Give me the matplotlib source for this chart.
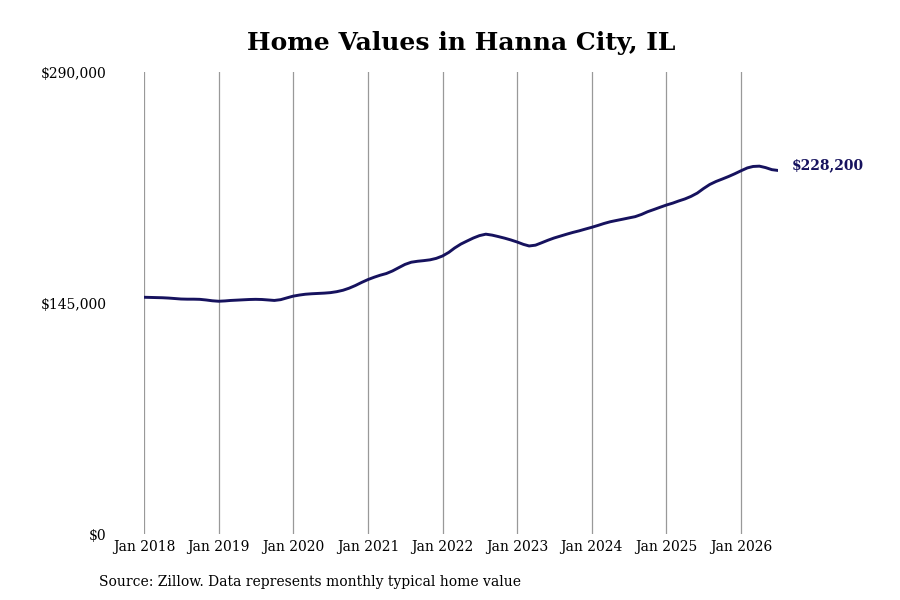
import matplotlib
matplotlib.use("Agg")
import matplotlib.pyplot as plt
import pandas as pd

title = "Home Values in Hanna City, IL"
source = "Source: Zillow. Data represents monthly typical home value"

values_2018 = [148600, 148500, 148400, 148300, 148100, 147800, 147500, 147400, 147400, 147300, 146900, 146400]
values_2019 = [146100, 146300, 146600, 146800, 147000, 147200, 147300, 147200, 146900, 146600, 147100, 148200]
values_2020 = [149300, 150000, 150500, 150800, 151000, 151200, 151500, 152100, 153000, 154300, 156000, 157900]
values_2021 = [159700, 161200, 162400, 163500, 165100, 167200, 169200, 170600, 171200, 171600, 172100, 173000]
values_2022 = [174500, 176800, 179500, 182000, 183900, 185800, 187300, 188200, 187600, 186700, 185700, 184600]
values_2023 = [183300, 181800, 180800, 181300, 182800, 184400, 185800, 187000, 188200, 189300, 190300, 191400]
values_2024 = [192500, 193700, 194900, 196000, 196800, 197600, 198400, 199200, 200600, 202300, 203700, 205100]
values_2025 = [206500, 207700, 209000, 210300, 211900, 214000, 216800, 219400, 221300, 222800, 224400, 226100]
values_2026 = [228000, 229800, 230700, 230900, 230000, 228700, 228200]

values = (values_2018 + values_2019 + values_2020 + values_2021 + values_2022
          + values_2023 + values_2024 + values_2025 + values_2026)
dates = pd.date_range("2018-01-01", periods=len(values), freq="MS")

tick_years = list(range(2018, 2027))
tick_labels = [f"Jan {y}" for y in tick_years]
y_ticks = [0, 145000, 290000]
y_labels = ["$0", "$145,000", "$290,000"]
end_label = "$228,200"

line_color = "#16125e"
font = "DejaVu Serif"

W, H = 900, 600
fig = plt.figure(figsize=(9, 6), dpi=100)
ax = fig.add_axes([144 / W, 1 - 534 / H, (778 - 144) / W, (534 - 72) / H])

ax.plot(dates, values, color=line_color, linewidth=2.1, solid_capstyle="round")

ax.set_xlim(dates[0], dates[-1])
ax.set_ylim(0, 290000)
tick_dates = [pd.Timestamp(f"{y}-01-01") for y in tick_years]
ax.set_xticks(tick_dates)
ax.set_xticklabels(tick_labels)
ax.set_yticks(y_ticks)
ax.set_yticklabels(y_labels)
ax.grid(axis="x", color="#999999", linewidth=0.9)
ax.grid(axis="y", visible=False)
for s in ax.spines.values():
    s.set_visible(False)
ax.tick_params(axis="both", length=0, labelsize=10)
ax.tick_params(axis="y", pad=27)
ax.tick_params(axis="x", pad=4)
for lab in ax.get_xticklabels() + ax.get_yticklabels():
    lab.set_fontfamily(font)

ax.annotate(end_label, xy=(dates[-1], values[-1]), xytext=(10, 4),
            textcoords="offset points", ha="left", va="center",
            fontsize=10, fontweight="bold", color=line_color,
            fontfamily=font, annotation_clip=False)

fig.text(461.5 / W, 1 - 43 / H, title, ha="center", va="center", fontsize=18,
         fontweight="bold", fontfamily=font)
fig.text(99 / W, 1 - 582 / H, source, ha="left", va="center", fontsize=10,
         fontfamily=font)

fig.savefig("out.png", dpi=100)
